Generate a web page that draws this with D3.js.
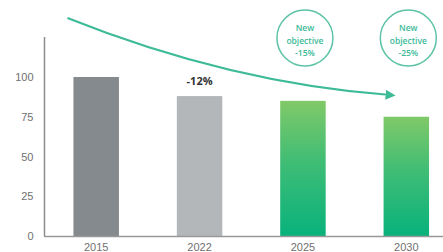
<!DOCTYPE html>
<html>
<head>
<meta charset="utf-8">
<script src="https://cdn.jsdelivr.net/npm/d3@7"></script>
<style>
  body { margin: 0; background: #fff; }
  svg { display: block; font-family: "Open Sans", "Liberation Sans", sans-serif; }
</style>
</head>
<body>
<svg width="443" height="252"></svg>
<script>
var years = ["2015", "2022", "2025", "2030"];
var values = [100, 88, 85, 75];
var barColors = ["#858a8e", "#b4b7b9", "green", "green"];
var yTicks = [0, 25, 50, 75, 100];
var barLabels = [null, "-12%", null, null];
var objectives = [null, null, "-15%", "-25%"];

var svg = d3.select("svg"),
    width = +svg.attr("width"),
    height = +svg.attr("height");

var x = d3.scaleBand()
  .domain(years)
  .range([44.5, 458])
  .paddingInner(0.56)
  .paddingOuter(0.28);

var y = d3.scaleLinear()
  .domain([0, 100])
  .range([236, 77]);

var defs = svg.append("defs");
var grad = defs.append("linearGradient")
  .attr("id", "green")
  .attr("x1", 0).attr("y1", 0).attr("x2", 0).attr("y2", 1);
grad.append("stop").attr("offset", "0%").attr("stop-color", "#80c968");
grad.append("stop").attr("offset", "45%").attr("stop-color", "#40bd75");
grad.append("stop").attr("offset", "100%").attr("stop-color", "#08b27c");

defs.append("marker")
  .attr("id", "head")
  .attr("viewBox", "0 0 10 10")
  .attr("refX", 5).attr("refY", 5)
  .attr("markerWidth", 5).attr("markerHeight", 5)
  .attr("orient", "auto")
  .append("path")
  .attr("d", "M0,0L10,5L0,10z")
  .attr("fill", "#3dba98");

var data = years.map(function(d, i) {
  return { year: d, value: values[i], color: barColors[i], label: barLabels[i], obj: objectives[i] };
});

// bars
svg.append("g")
  .selectAll("rect")
  .data(data)
  .enter().append("rect")
    .attr("x", function(d) { return x(d.year); })
    .attr("y", function(d) { return y(d.value); })
    .attr("width", x.bandwidth())
    .attr("height", function(d) { return y(0) - y(d.value); })
    .attr("fill", function(d) { return d.color == "green" ? "url(#green)" : d.color; });

// axes
var yAxis = svg.append("g")
  .attr("transform", "translate(44.5,0)")
  .call(d3.axisLeft(y).tickValues(yTicks).tickSize(0).tickPadding(11));
yAxis.select(".domain").remove();
yAxis.selectAll("text").attr("fill", "#707070").style("font-size", "11px");

svg.append("line")
  .attr("x1", 44.5).attr("x2", 44.5)
  .attr("y1", 37).attr("y2", y(0))
  .attr("stroke", "#8c8c8c").attr("stroke-width", 1.5);

var xAxis = svg.append("g")
  .attr("transform", "translate(0," + y(0) + ")")
  .call(d3.axisBottom(x).tickSize(0).tickPadding(7));
xAxis.select(".domain").remove();
xAxis.selectAll("text").attr("fill", "#707070").style("font-size", "11px");

svg.append("line")
  .attr("x1", 44).attr("x2", width)
  .attr("y1", y(0) + 0.5).attr("y2", y(0) + 0.5)
  .attr("stroke", "#999").attr("stroke-width", 1.5);

// -12% label
svg.append("g")
  .selectAll("text")
  .data(data.filter(function(d) { return d.label; }))
  .enter().append("text")
    .attr("x", function(d) { return x(d.year) + x.bandwidth() / 2; })
    .attr("y", function(d) { return y(d.value) - 11; })
    .attr("text-anchor", "middle")
    .attr("fill", "#333")
    .style("font-size", "11px")
    .style("font-weight", "bold")
    .text(function(d) { return d.label; });

// trend arrow
var x0 = x("2015") - 6, y0 = 18;
var x1 = x("2030") + 7, y1 = y(88) - 1;
svg.append("path")
  .attr("d", "M" + x0 + "," + y0 + "Q230,83 " + x1 + "," + y1)
  .attr("fill", "none")
  .attr("stroke", "#3dba98")
  .attr("stroke-width", 2)
  .attr("marker-end", "url(#head)");

// objective circles
var obj = svg.append("g")
  .selectAll("g")
  .data(data.filter(function(d) { return d.obj; }))
  .enter().append("g")
    .attr("transform", function(d) { return "translate(" + (x(d.year) + x.bandwidth() / 2 + 2) + ",38)"; });

obj.append("circle")
  .attr("r", 28)
  .attr("fill", "#fff")
  .attr("stroke", "#5cc3a6")
  .attr("stroke-width", 1.5);

obj.each(function(d) {
  var g = d3.select(this);
  ["New", "objective", d.obj].forEach(function(t, i) {
    g.append("text")
      .attr("y", -7 + i * 12.5)
      .attr("text-anchor", "middle")
      .attr("fill", "#3dba98")
      .style("font-size", "8.5px")
      .style("font-weight", "600")
      .text(t);
  });
});
</script>
</body>
</html>
